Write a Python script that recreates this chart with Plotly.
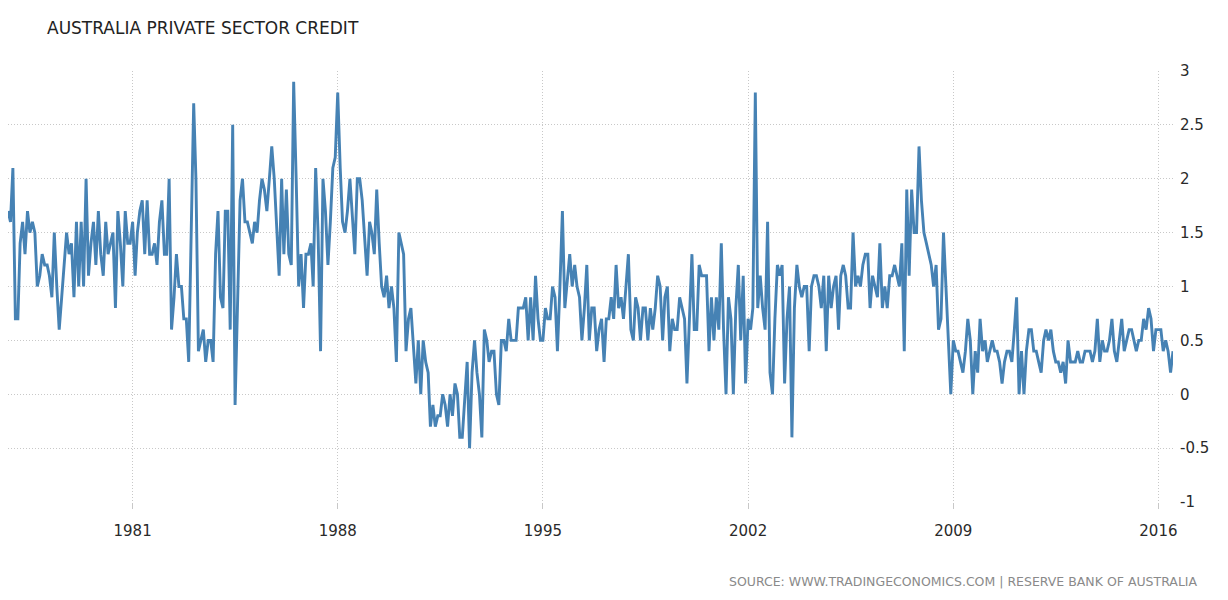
import pandas as pd
import plotly.graph_objects as go

# Monthly private sector credit growth (%, m/m), Oct 1976 - Jul 2016
first_month = "1976-10-01"

credit_1970s = [
    1.7, 1.6, 2.1,                                              # 1976 Oct-Dec
    0.7, 0.7, 1.4, 1.6, 1.3, 1.7, 1.5, 1.6, 1.5, 1.0, 1.1, 1.3,  # 1977
    1.2, 1.2, 1.1, 0.9, 1.5, 1.0, 0.6, 0.9, 1.2, 1.5, 1.3, 1.4,  # 1978
    0.9, 1.6, 1.0, 1.6, 1.0, 2.0, 1.1, 1.4, 1.6, 1.2, 1.7, 1.3,  # 1979
]
credit_1980s = [
    1.1, 1.6, 1.3, 1.4, 1.5, 0.8, 1.7, 1.4, 1.0, 1.7, 1.4, 1.4,  # 1980
    1.6, 1.1, 1.5, 1.7, 1.8, 1.3, 1.8, 1.3, 1.3, 1.4, 1.2, 1.6,  # 1981
    1.8, 1.3, 1.3, 2.0, 0.6, 0.9, 1.3, 1.0, 1.0, 0.7, 0.7, 0.3,  # 1982
    1.5, 2.7, 2.0, 0.4, 0.5, 0.6, 0.3, 0.5, 0.5, 0.3, 1.3, 1.7,  # 1983
    0.9, 0.8, 1.7, 1.7, 0.6, 2.5, -0.1, 1.0, 1.8, 2.0, 1.6, 1.6,  # 1984
    1.5, 1.4, 1.6, 1.5, 1.8, 2.0, 1.9, 1.7, 2.0, 2.3, 2.0, 1.5,  # 1985
    1.1, 2.0, 1.3, 1.9, 1.3, 1.2, 2.9, 2.0, 1.0, 1.3, 0.8, 1.3,  # 1986
    1.3, 1.4, 1.0, 2.1, 1.5, 0.4, 2.0, 1.7, 1.2, 1.6, 2.1, 2.2,  # 1987
    2.8, 2.1, 1.6, 1.5, 1.7, 2.0, 1.7, 1.3, 2.0, 2.0, 1.8, 1.5,  # 1988
    1.1, 1.6, 1.5, 1.3, 1.9, 1.4, 1.0, 0.9, 1.1, 0.8, 1.0, 0.8,  # 1989
]
credit_1990s = [
    0.3, 1.5, 1.4, 1.3, 0.4, 0.7, 0.8, 0.4, 0.1, 0.5, 0.0, 0.5,  # 1990
    0.3, 0.2, -0.3, -0.1, -0.3, -0.2, -0.2, 0.0, -0.1, -0.3, 0.0, -0.2,  # 1991
    0.1, 0.0, -0.4, -0.4, 0.0, 0.3, -0.5, 0.2, 0.5, 0.2, 0.0, -0.4,  # 1992
    0.6, 0.5, 0.3, 0.4, 0.4, 0.0, -0.1, 0.5, 0.5, 0.4, 0.7, 0.5,  # 1993
    0.5, 0.5, 0.8, 0.8, 0.8, 0.9, 0.5, 0.9, 0.5, 1.1, 0.7, 0.5,  # 1994
    0.5, 0.8, 0.7, 0.7, 1.0, 0.9, 0.4, 1.0, 1.7, 0.8, 1.1, 1.3,  # 1995
    1.0, 1.2, 1.0, 0.9, 0.5, 0.8, 1.2, 0.5, 0.8, 0.8, 0.4, 0.6,  # 1996
    0.7, 0.3, 0.7, 0.7, 0.9, 0.7, 1.2, 0.8, 0.9, 0.7, 1.0, 1.3,  # 1997
    0.6, 0.5, 0.9, 0.8, 0.5, 0.8, 0.8, 0.5, 0.8, 0.6, 0.8, 1.1,  # 1998
    1.0, 0.5, 0.9, 1.0, 0.4, 0.7, 0.6, 0.6, 0.9, 0.8, 0.7, 0.1,  # 1999
]
credit_2000s = [
    0.8, 1.3, 0.6, 0.6, 1.2, 1.1, 1.1, 1.1, 0.4, 0.9, 0.5, 0.9,  # 2000
    0.6, 1.4, 0.6, 0.0, 0.9, 0.7, 0.0, 0.8, 1.2, 0.5, 1.1, 0.1,  # 2001
    0.7, 0.6, 0.8, 2.8, 0.8, 1.1, 0.8, 0.6, 1.6, 0.2, 0.0, 0.7,  # 2002
    1.2, 1.1, 1.2, 0.1, 0.7, 1.0, -0.4, 0.8, 1.2, 1.0, 0.9, 1.0,  # 2003
    1.0, 0.4, 1.0, 1.1, 1.1, 1.0, 0.8, 1.1, 0.4, 1.1, 0.8, 1.0,  # 2004
    1.1, 0.6, 1.1, 1.2, 1.1, 0.8, 0.8, 1.5, 1.0, 1.1, 1.0, 1.2,  # 2005
    1.3, 1.3, 0.8, 1.1, 1.0, 0.9, 1.4, 0.8, 1.0, 0.8, 1.1, 1.1,  # 2006
    1.2, 1.1, 1.0, 1.4, 0.4, 1.9, 1.1, 1.9, 1.5, 1.5, 2.3, 1.8,  # 2007
    1.5, 1.4, 1.3, 1.2, 1.0, 1.2, 0.6, 0.7, 1.5, 1.0, 0.5, 0.0,  # 2008
    0.5, 0.4, 0.4, 0.3, 0.2, 0.4, 0.7, 0.5, 0.0, 0.4, 0.2, 0.7,  # 2009
]
credit_2010s = [
    0.4, 0.5, 0.3, 0.4, 0.5, 0.4, 0.4, 0.3, 0.1, 0.3, 0.4, 0.4,  # 2010
    0.3, 0.6, 0.9, 0.0, 0.4, 0.0, 0.4, 0.6, 0.6, 0.4, 0.4, 0.3,  # 2011
    0.2, 0.5, 0.6, 0.5, 0.6, 0.4, 0.3, 0.3, 0.2, 0.3, 0.1, 0.5,  # 2012
    0.3, 0.3, 0.3, 0.4, 0.3, 0.3, 0.4, 0.4, 0.4, 0.3, 0.4, 0.7,  # 2013
    0.3, 0.5, 0.4, 0.4, 0.5, 0.7, 0.4, 0.3, 0.5, 0.7, 0.4, 0.5,  # 2014
    0.6, 0.6, 0.5, 0.4, 0.5, 0.5, 0.7, 0.6, 0.8, 0.7, 0.4, 0.6,  # 2015
    0.6, 0.6, 0.4, 0.5, 0.4, 0.2, 0.4,                           # 2016 Jan-Jul
]

year_ticks = ["1981", "1988", "1995", "2002", "2009", "2016"]
y_ticks = [3, 2.5, 2, 1.5, 1, 0.5, 0, -0.5, -1]
y_tick_text = ["3", "2.5", "2", "1.5", "1", "0.5", "0", "-0.5", "-1"]

title_text = "AUSTRALIA PRIVATE SECTOR CREDIT"
source_text = "SOURCE: WWW.TRADINGECONOMICS.COM | RESERVE BANK OF AUSTRALIA"

values = credit_1970s + credit_1980s + credit_1990s + credit_2000s + credit_2010s
dates = pd.date_range(first_month, periods=len(values), freq="MS")

fig = go.Figure()
fig.add_trace(go.Scatter(
    x=dates, y=values, mode="lines",
    line=dict(color="#4682b4", width=2.9),
    hoverinfo="x+y",
))

W, H = 1228, 600
ml, mr, mt, mb = 8, 55, 71, 98
grid = "#c8c8c8"

fig.update_layout(
    width=W, height=H,
    margin=dict(l=ml, r=mr, t=mt, b=mb),
    paper_bgcolor="white", plot_bgcolor="white",
    showlegend=False,
    title=dict(
        text=title_text,
        x=47 / W, xanchor="left", xref="container",
        y=1 - 28 / H, yanchor="middle", yref="container",
        font=dict(family="DejaVu Sans", size=17, color="#222222"),
    ),
    xaxis=dict(
        range=[dates[0], dates[-1]],
        tickvals=[pd.Timestamp(f"{y}-01-01") for y in year_ticks],
        ticktext=year_ticks,
        showgrid=True, gridcolor=grid, griddash="1px,2px", gridwidth=1,
        ticks="outside", ticklen=6, tickcolor=grid,
        ticklabelstandoff=9,
        showline=False, zeroline=False,
        tickfont=dict(family="DejaVu Sans", size=15, color="#2a2a2a"),
    ),
    yaxis=dict(
        side="right",
        range=[-1, 3],
        tickvals=y_ticks, ticktext=y_tick_text,
        showgrid=True, gridcolor=grid, griddash="1px,2px", gridwidth=1,
        zeroline=False, showline=False,
        ticks="", ticklabelstandoff=6,
        tickfont=dict(family="DejaVu Sans", size=15, color="#2a2a2a"),
    ),
    annotations=[dict(
        text=source_text,
        xref="paper", yref="paper",
        x=(1200 - ml) / (W - ml - mr), xanchor="right",
        y=(H - mb - 581) / (H - mt - mb), yanchor="middle",
        showarrow=False,
        font=dict(family="DejaVu Sans", size=12.5, color="#8a8a8a"),
    )],
)

fig.write_html("out.html")
